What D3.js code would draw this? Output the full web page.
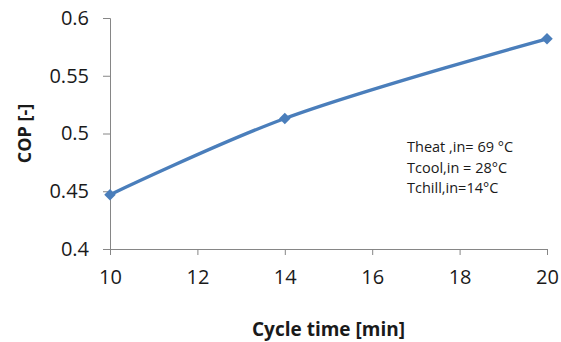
<!DOCTYPE html>
<html>
<head>
<meta charset="utf-8">
<script src="https://cdn.jsdelivr.net/npm/d3@7"></script>
<style>
  body { margin: 0; background: #fff; }
  text { font-family: "Open Sans", sans-serif; fill: #1a1a1a; }
</style>
</head>
<body>
<div id="chart"></div>
<script>
const cycleTime = [10, 14, 20];
const cop = [0.447, 0.513, 0.582];
const xTicks = [10, 12, 14, 16, 18, 20];
const yTicks = [0.4, 0.45, 0.5, 0.55, 0.6];
const notes = ['Theat ,in= 69 °C', 'Tcool,in = 28°C', 'Tchill,in=14°C'];

const width = 561, height = 342;
const margin = { top: 18, right: 14, bottom: 93, left: 110 };
const innerW = width - margin.left - margin.right;
const innerH = height - margin.top - margin.bottom;
const blue = '#4a7ebb';
const axisGrey = '#868686';

const svg = d3.select('#chart').append('svg')
  .attr('width', width)
  .attr('height', height);

const g = svg.append('g')
  .attr('transform', 'translate(' + margin.left + ',' + margin.top + ')');

const x = d3.scaleLinear().domain([10, 20]).range([0, innerW]);
const y = d3.scaleLinear().domain([0.4, 0.6]).range([innerH, 0]);

// axes
const xAxis = g.append('g')
  .attr('transform', 'translate(0,' + innerH + ')')
  .call(d3.axisBottom(x).tickValues(xTicks).tickSize(6).tickPadding(15).tickFormat(d3.format('d')));
const yAxis = g.append('g')
  .call(d3.axisLeft(y).tickValues(yTicks).tickSize(7).tickPadding(14).tickFormat(d => String(d)));

[xAxis, yAxis].forEach(a => {
  a.selectAll('path, line').attr('stroke', axisGrey).attr('stroke-width', 1);
  a.selectAll('text').style('font-size', '20px').attr('fill', '#1a1a1a');
});

// line
const pts = cycleTime.map((t, i) => [t, cop[i]]);
const line = d3.line()
  .x(d => x(d[0]))
  .y(d => y(d[1]))
  .curve(d3.curveCatmullRom.alpha(0.5));

g.append('path')
  .datum(pts)
  .attr('fill', 'none')
  .attr('stroke', blue)
  .attr('stroke-width', 3.4)
  .attr('d', line);

g.selectAll('.marker')
  .data(pts)
  .enter()
  .append('path')
  .attr('class', 'marker')
  .attr('d', d3.symbol().type(d3.symbolSquare).size(66))
  .attr('transform', d => 'translate(' + x(d[0]) + ',' + y(d[1]) + ') rotate(45)')
  .attr('fill', blue);

// titles
svg.append('text')
  .attr('x', margin.left + innerW / 2)
  .attr('y', 336)
  .attr('text-anchor', 'middle')
  .style('font-size', '19px')
  .style('font-weight', 'bold')
  .text('Cycle time [min]');

svg.append('text')
  .attr('transform', 'translate(31,' + (margin.top + innerH / 2) + ') rotate(-90)')
  .attr('text-anchor', 'middle')
  .style('font-size', '18px')
  .style('font-weight', 'bold')
  .text('COP [-]');

// annotation
svg.append('g')
  .selectAll('text')
  .data(notes)
  .enter()
  .append('text')
  .attr('x', 407)
  .attr('y', (d, i) => 152 + i * 20.5)
  .style('font-size', '14.5px')
  .text(d => d);
</script>
</body>
</html>
